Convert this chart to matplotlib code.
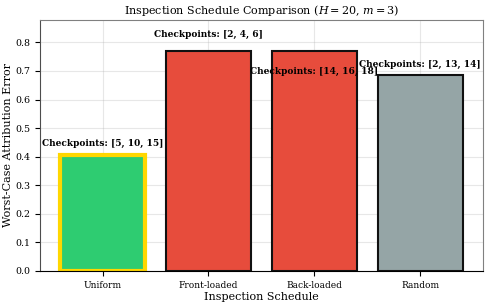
import matplotlib
matplotlib.use("Agg")
import matplotlib.pyplot as plt
import numpy as np

plt.rcParams['font.family'] = 'DejaVu Serif'
plt.rcParams['mathtext.fontset'] = 'dejavuserif'

# data
schedules = ['Uniform', 'Front-loaded', 'Back-loaded', 'Random']
errors = [0.406, 0.771, 0.771, 0.686]
checkpoints = ['[5, 10, 15]', '[2, 4, 6]', '[14, 16, 18]', '[2, 13, 14]']
label_y = [0.446, 0.828, 0.697, 0.722]  # where the annotation text sits
colors = ['#2ecc71', '#e74c3c', '#e74c3c', '#95a5a6']
edges = ['#FFD700', '#111111', '#111111', '#111111']
widths = [3, 1.5, 1.5, 1.5]

fig, ax = plt.subplots(figsize=(4.9, 3.06), dpi=100)
x = np.arange(len(schedules))
bars = ax.bar(x, errors, width=0.8, color=colors, edgecolor=edges, linewidth=widths, zorder=2)

for xi, ly, cp in zip(x, label_y, checkpoints):
    ax.text(xi, ly, 'Checkpoints: ' + cp, ha='center', va='center',
            fontsize=6.5, fontweight='bold', zorder=3)

ax.set_xticks(x)
ax.set_xticklabels(schedules, fontsize=6.5)
ax.tick_params(axis='y', labelsize=6.8)
ax.set_ylim(0, max(errors) * 1.14)
ax.set_xlabel('Inspection Schedule', fontsize=8, labelpad=2)
ax.set_ylabel('Worst-Case Attribution Error', fontsize=8, labelpad=2)
ax.set_title(r'Inspection Schedule Comparison ($H=20$, $m=3$)', fontsize=8, pad=4)
ax.grid(True, alpha=0.3, zorder=0)
ax.set_axisbelow(True)
ax.spines['bottom'].set_color('black')
ax.spines['left'].set_color('0.3')
ax.spines['top'].set_color('0.5')
ax.spines['right'].set_color('0.5')

plt.subplots_adjust(left=0.082, right=0.985, top=0.935, bottom=0.115)
plt.savefig('out.png', dpi=100)
